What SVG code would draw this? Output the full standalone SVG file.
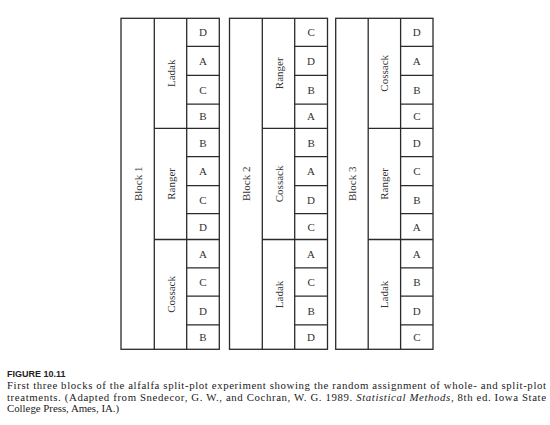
<svg xmlns="http://www.w3.org/2000/svg" width="550" height="425" viewBox="0 0 550 425">
<style>
.ln{fill:none;stroke:#2a2a2a;stroke-width:1.3}
.t{font-family:"Liberation Serif","Times New Roman",serif;font-size:11px;fill:#333;text-anchor:middle}
.cap{font-family:"Liberation Serif","Times New Roman",serif;font-size:10.8px;fill:#222}
.fig{font-family:"Liberation Sans",Arial,sans-serif;font-size:9px;font-weight:bold;fill:#222}
</style>
<rect width="550" height="425" fill="#fff"/>

<g id="block1">
<rect class="ln" x="121" y="18.3" width="98.3" height="331"/>
<line class="ln" x1="154.3" y1="18.3" x2="154.3" y2="349.3"/>
<line class="ln" x1="186.7" y1="18.3" x2="186.7" y2="349.3"/>
<text class="t" transform="translate(141.7,183.8) rotate(-90)">Block 1</text>
<g id="b1-ladak">
<line class="ln" x1="154.3" y1="128.3" x2="219.3" y2="128.3"/>
<text class="t" transform="translate(174.5,73.3) rotate(-90)">Ladak</text>
<line class="ln" x1="186.7" y1="46.3" x2="219.3" y2="46.3"/>
<line class="ln" x1="186.7" y1="75.3" x2="219.3" y2="75.3"/>
<line class="ln" x1="186.7" y1="104.2" x2="219.3" y2="104.2"/>
<text class="t" x="203" y="36.3">D</text>
<text class="t" x="203" y="64.8">A</text>
<text class="t" x="203" y="93.7">C</text>
<text class="t" x="203" y="120.2">B</text>
</g>
<g id="b1-ranger">
<line class="ln" x1="154.3" y1="239.5" x2="219.3" y2="239.5"/>
<text class="t" transform="translate(174.5,183.9) rotate(-90)">Ranger</text>
<line class="ln" x1="186.7" y1="156.7" x2="219.3" y2="156.7"/>
<line class="ln" x1="186.7" y1="185.7" x2="219.3" y2="185.7"/>
<line class="ln" x1="186.7" y1="213.7" x2="219.3" y2="213.7"/>
<text class="t" x="203" y="146.5">B</text>
<text class="t" x="203" y="175.2">A</text>
<text class="t" x="203" y="203.7">C</text>
<text class="t" x="203" y="230.6">D</text>
</g>
<g id="b1-cossack">
<text class="t" transform="translate(174.5,294.4) rotate(-90)">Cossack</text>
<line class="ln" x1="186.7" y1="267.8" x2="219.3" y2="267.8"/>
<line class="ln" x1="186.7" y1="296.2" x2="219.3" y2="296.2"/>
<line class="ln" x1="186.7" y1="324.8" x2="219.3" y2="324.8"/>
<text class="t" x="203" y="257.6">A</text>
<text class="t" x="203" y="286">C</text>
<text class="t" x="203" y="314.5">D</text>
<text class="t" x="203" y="341">B</text>
</g>
</g>

<g id="block2">
<rect class="ln" x="229.5" y="18.3" width="98" height="331"/>
<line class="ln" x1="262.3" y1="18.3" x2="262.3" y2="349.3"/>
<line class="ln" x1="294.7" y1="18.3" x2="294.7" y2="349.3"/>
<text class="t" transform="translate(249.9,183.8) rotate(-90)">Block 2</text>
<g id="b2-ranger">
<line class="ln" x1="262.3" y1="128.3" x2="327.5" y2="128.3"/>
<text class="t" transform="translate(282.5,73.3) rotate(-90)">Ranger</text>
<line class="ln" x1="294.7" y1="46.3" x2="327.5" y2="46.3"/>
<line class="ln" x1="294.7" y1="75.3" x2="327.5" y2="75.3"/>
<line class="ln" x1="294.7" y1="104.2" x2="327.5" y2="104.2"/>
<text class="t" x="311.1" y="36.3">C</text>
<text class="t" x="311.1" y="64.8">D</text>
<text class="t" x="311.1" y="93.7">B</text>
<text class="t" x="311.1" y="120.2">A</text>
</g>
<g id="b2-cossack">
<line class="ln" x1="262.3" y1="239.5" x2="327.5" y2="239.5"/>
<text class="t" transform="translate(282.5,183.9) rotate(-90)">Cossack</text>
<line class="ln" x1="294.7" y1="156.7" x2="327.5" y2="156.7"/>
<line class="ln" x1="294.7" y1="185.7" x2="327.5" y2="185.7"/>
<line class="ln" x1="294.7" y1="213.7" x2="327.5" y2="213.7"/>
<text class="t" x="311.1" y="146.5">B</text>
<text class="t" x="311.1" y="175.2">A</text>
<text class="t" x="311.1" y="203.7">D</text>
<text class="t" x="311.1" y="230.6">C</text>
</g>
<g id="b2-ladak">
<text class="t" transform="translate(282.5,294.4) rotate(-90)">Ladak</text>
<line class="ln" x1="294.7" y1="267.8" x2="327.5" y2="267.8"/>
<line class="ln" x1="294.7" y1="296.2" x2="327.5" y2="296.2"/>
<line class="ln" x1="294.7" y1="324.8" x2="327.5" y2="324.8"/>
<text class="t" x="311.1" y="257.6">A</text>
<text class="t" x="311.1" y="286">C</text>
<text class="t" x="311.1" y="314.5">B</text>
<text class="t" x="311.1" y="341">D</text>
</g>
</g>

<g id="block3">
<rect class="ln" x="335.7" y="18.3" width="97.3" height="331"/>
<line class="ln" x1="368.2" y1="18.3" x2="368.2" y2="349.3"/>
<line class="ln" x1="400.6" y1="18.3" x2="400.6" y2="349.3"/>
<text class="t" transform="translate(356,183.8) rotate(-90)">Block 3</text>
<g id="b3-cossack">
<line class="ln" x1="368.2" y1="128.3" x2="433" y2="128.3"/>
<text class="t" transform="translate(388.4,73.3) rotate(-90)">Cossack</text>
<line class="ln" x1="400.6" y1="46.3" x2="433" y2="46.3"/>
<line class="ln" x1="400.6" y1="75.3" x2="433" y2="75.3"/>
<line class="ln" x1="400.6" y1="104.2" x2="433" y2="104.2"/>
<text class="t" x="416.8" y="36.3">D</text>
<text class="t" x="416.8" y="64.8">A</text>
<text class="t" x="416.8" y="93.7">B</text>
<text class="t" x="416.8" y="120.2">C</text>
</g>
<g id="b3-ranger">
<line class="ln" x1="368.2" y1="239.5" x2="433" y2="239.5"/>
<text class="t" transform="translate(388.4,183.9) rotate(-90)">Ranger</text>
<line class="ln" x1="400.6" y1="156.7" x2="433" y2="156.7"/>
<line class="ln" x1="400.6" y1="185.7" x2="433" y2="185.7"/>
<line class="ln" x1="400.6" y1="213.7" x2="433" y2="213.7"/>
<text class="t" x="416.8" y="146.5">D</text>
<text class="t" x="416.8" y="175.2">C</text>
<text class="t" x="416.8" y="203.7">B</text>
<text class="t" x="416.8" y="230.6">A</text>
</g>
<g id="b3-ladak">
<text class="t" transform="translate(388.4,294.4) rotate(-90)">Ladak</text>
<line class="ln" x1="400.6" y1="267.8" x2="433" y2="267.8"/>
<line class="ln" x1="400.6" y1="296.2" x2="433" y2="296.2"/>
<line class="ln" x1="400.6" y1="324.8" x2="433" y2="324.8"/>
<text class="t" x="416.8" y="257.6">A</text>
<text class="t" x="416.8" y="286">B</text>
<text class="t" x="416.8" y="314.5">D</text>
<text class="t" x="416.8" y="341">C</text>
</g>
</g>

<g id="caption">
<text class="fig" x="7" y="376.5">FIGURE 10.11</text>
<text class="cap" x="7" y="389" textLength="539" lengthAdjust="spacing">First three blocks of the alfalfa split-plot experiment showing the random assignment of whole- and split-plot</text>
<text class="cap" x="7" y="400.5" textLength="539" lengthAdjust="spacing">treatments. (Adapted from Snedecor, G. W., and Cochran, W. G. 1989. <tspan font-style="italic">Statistical Methods</tspan>, 8th ed. Iowa State</text>
<text class="cap" x="7" y="412">College Press, Ames, IA.)</text>
</g>
</svg>
